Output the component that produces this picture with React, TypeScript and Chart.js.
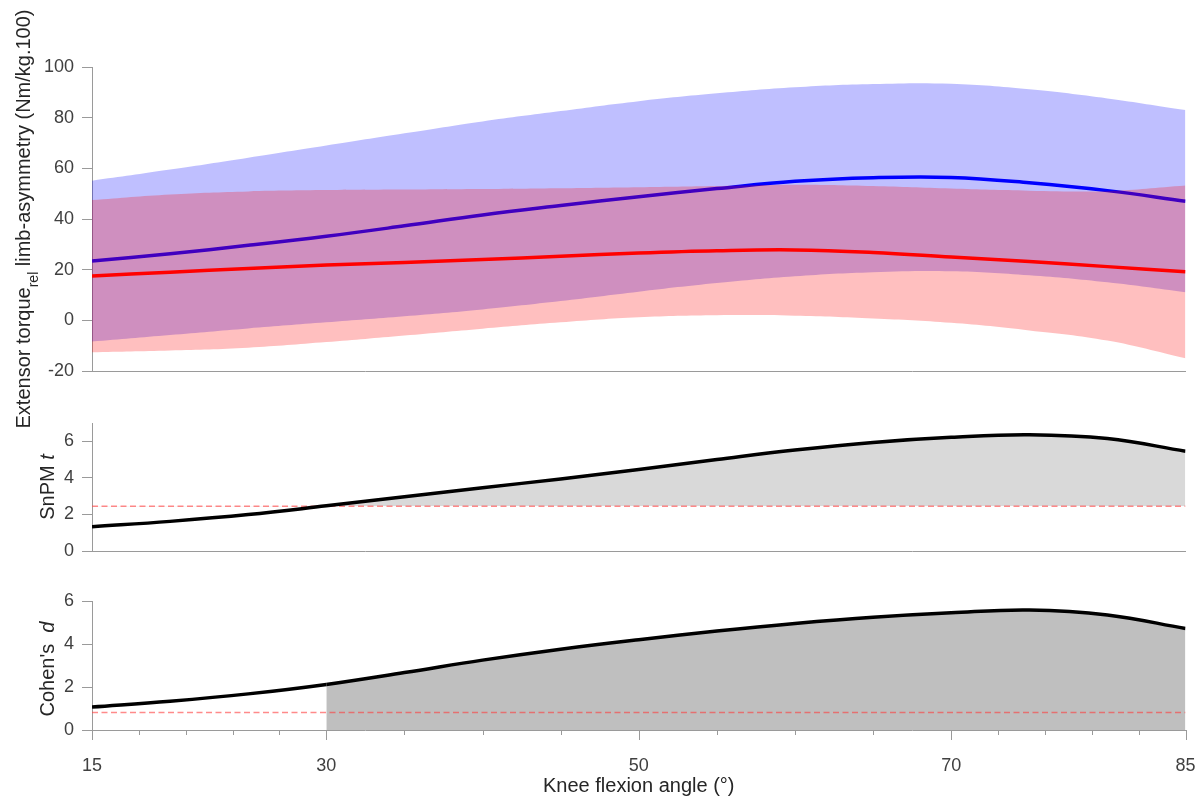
import React, { useEffect, useRef } from 'react';
import { Chart, registerables } from 'chart.js';

Chart.register(...registerables);

// ---------------- data ----------------
const ANGLES = [15, 20, 25, 30, 35, 40, 45, 50, 55, 60, 65, 70, 75, 80, 85];

const BLUE_MEAN = [23.4, 26.3, 29.6, 33.2, 37.3, 41.6, 45.3, 48.8, 52.0, 54.9, 56.3, 56.4, 54.3, 51.2, 47.0];
const BLUE_UPPER = [55.1, 59.5, 64.2, 69.0, 73.8, 78.5, 82.6, 86.5, 89.6, 92.0, 93.3, 93.4, 91.2, 87.6, 83.0];
const BLUE_LOWER = [-8.4, -5.8, -3.2, -0.8, 1.6, 4.3, 7.6, 11.3, 14.7, 17.4, 19.0, 19.4, 17.8, 15.0, 11.1];

const RED_MEAN = [17.5, 19.0, 20.5, 21.8, 22.8, 24.0, 25.3, 26.6, 27.5, 27.8, 26.8, 25.0, 23.2, 21.2, 19.2];
const RED_UPPER = [47.5, 49.7, 50.9, 51.4, 51.6, 51.8, 52.1, 52.5, 53.0, 53.5, 53.0, 52.0, 51.2, 51.0, 53.2];
const RED_LOWER = [-12.6, -11.9, -10.8, -8.6, -6.0, -3.3, -0.8, 1.2, 2.0, 1.8, 0.7, -1.0, -4.0, -8.0, -15.0];

const SNPM_T = [1.33, 1.62, 1.99, 2.47, 2.97, 3.46, 3.94, 4.46, 5.00, 5.52, 5.94, 6.22, 6.36, 6.15, 5.46];
const SNPM_THRESHOLD = 2.45;

const COHEN_D = [1.07, 1.34, 1.68, 2.12, 2.67, 3.25, 3.76, 4.20, 4.60, 4.95, 5.24, 5.45, 5.58, 5.35, 4.72];
const COHEN_THRESHOLD = 0.81;
const COHEN_SHADE_START = 30;

const X_TICKS = [15, 18, 21, 24, 27, 30, 35, 40, 45, 50, 55, 60, 65, 70, 73, 76, 79, 82, 85];
const X_MAJOR = [15, 30, 50, 70, 85];
const TOP_Y_TICKS = [-20, 0, 20, 40, 60, 80, 100];
const MID_Y_TICKS = [0, 2, 4, 6];
const BOT_Y_TICKS = [0, 2, 4, 6];

// ---------------- style ----------------
const FONT = '"Liberation Sans", Arial, Helvetica, sans-serif';
const AXIS_COLOR = '#9a9a9a';
const TEXT_COLOR = '#404040';
const TITLE_COLOR = '#262626';
const BLUE_BAND = 'rgba(0,0,255,0.25)';
const RED_BAND = 'rgba(255,0,0,0.25)';
const SHADE_T = '#d9d9d9';
const SHADE_D = '#bfbfbf';
const THRESH_COLOR = 'rgba(255,60,60,0.6)';
const NONE = 'rgba(0,0,0,0)';

const W = 1199;
const LEFT = 92;
const RIGHT_PAD = 13.5;

Chart.defaults.font.family = FONT;

const xy = (vals: number[]) => vals.map((y, i) => ({ x: ANGLES[i], y }));
const flat = (v: number) => [{ x: ANGLES[0], y: v }, { x: ANGLES[ANGLES.length - 1], y: v }];

type Part = { text: string; italic?: boolean; sub?: boolean };

const richTitle = {
  id: 'richTitle',
  afterDraw(chart: any, _args: any, opts: any) {
    if (!opts || !opts.parts) return;
    const { ctx, chartArea } = chart;
    const cy = opts.cy !== undefined ? opts.cy : (chartArea.top + chartArea.bottom) / 2;
    const size = 20;
    const subSize = 14;
    const fontFor = (p: Part) => `${p.italic ? 'italic ' : ''}${p.sub ? subSize : size}px ${FONT}`;
    ctx.save();
    ctx.translate(opts.baseline, cy);
    ctx.rotate(-Math.PI / 2);
    let total = 0;
    for (const p of opts.parts as Part[]) {
      ctx.font = fontFor(p);
      total += ctx.measureText(p.text).width;
    }
    let x = -total / 2;
    ctx.fillStyle = TITLE_COLOR;
    ctx.textBaseline = 'alphabetic';
    ctx.textAlign = 'left';
    for (const p of opts.parts as Part[]) {
      ctx.font = fontFor(p);
      ctx.fillText(p.text, x, p.sub ? 8 : 0);
      x += ctx.measureText(p.text).width;
    }
    ctx.restore();
  },
};

const xTickMarks = {
  id: 'xTickMarks',
  afterDraw(chart: any, _args: any, opts: any) {
    if (!opts || !opts.on) return;
    const s = chart.scales.x;
    const ctx = chart.ctx;
    ctx.save();
    ctx.strokeStyle = AXIS_COLOR;
    ctx.lineWidth = 1;
    for (const v of X_TICKS) {
      const px = Math.round(s.getPixelForValue(v)) + 0.5;
      const len = X_MAJOR.includes(v) ? 10 : 5;
      ctx.beginPath();
      ctx.moveTo(px, s.top);
      ctx.lineTo(px, s.top + len);
      ctx.stroke();
    }
    ctx.restore();
  },
};

function yScale(min: number, max: number, ticks: number[]) {
  return {
    type: 'linear',
    min,
    max,
    afterBuildTicks: (s: any) => {
      s.ticks = ticks.map((v) => ({ value: v }));
    },
    afterFit: (s: any) => {
      s.width = LEFT;
    },
    ticks: { padding: 8, color: TEXT_COLOR, font: { size: 18 } },
    grid: { drawOnChartArea: false, drawTicks: true, tickLength: 10, tickColor: AXIS_COLOR, color: AXIS_COLOR },
    border: { display: true, color: AXIS_COLOR, width: 1 },
  };
}

function plainX(height: number) {
  return {
    type: 'linear',
    min: 15,
    max: 85,
    ticks: { display: false },
    grid: { display: false },
    border: { display: true, color: AXIS_COLOR, width: 1 },
    afterFit: (s: any) => {
      s.height = height;
      s.paddingLeft = 0;
      s.paddingRight = 0;
    },
  };
}

const lineBase = { pointRadius: 0, pointHoverRadius: 0, tension: 0.4 };

export default function App() {
  const topRef = useRef<HTMLCanvasElement>(null);
  const midRef = useRef<HTMLCanvasElement>(null);
  const botRef = useRef<HTMLCanvasElement>(null);

  useEffect(() => {
    const charts: Chart[] = [];

    // ---------- top panel ----------
    charts.push(
      new Chart(topRef.current as HTMLCanvasElement, {
        type: 'line',
        data: {
          datasets: [
            { ...lineBase, label: 'blue upper', data: xy(BLUE_UPPER), borderColor: NONE, borderWidth: 0, backgroundColor: BLUE_BAND, fill: '+1', order: 60 },
            { ...lineBase, label: 'blue lower', data: xy(BLUE_LOWER), borderColor: NONE, borderWidth: 0, fill: false, order: 59 },
            { ...lineBase, label: 'blue mean', data: xy(BLUE_MEAN), borderColor: '#0000ff', borderWidth: 3.5, fill: false, order: 50 },
            { ...lineBase, label: 'red upper', data: xy(RED_UPPER), borderColor: NONE, borderWidth: 0, backgroundColor: RED_BAND, fill: '+1', order: 40 },
            { ...lineBase, label: 'red lower', data: xy(RED_LOWER), borderColor: NONE, borderWidth: 0, fill: false, order: 39 },
            { ...lineBase, label: 'red mean', data: xy(RED_MEAN), borderColor: '#ff0000', borderWidth: 3.5, fill: false, order: 30 },
          ],
        },
        options: {
          responsive: false,
          animation: false,
          events: [],
          layout: { padding: { left: 0, right: RIGHT_PAD, top: 67, bottom: 0 } },
          scales: {
            x: plainX(440 - 371),
            y: yScale(-20, 100, TOP_Y_TICKS),
          } as any,
          plugins: {
            legend: { display: false },
            tooltip: { enabled: false },
            richTitle: {
              baseline: 30,
              parts: [
                { text: 'Extensor torque' },
                { text: 'rel', sub: true },
                { text: ' limb-asymmetry (Nm/kg.100)' },
              ],
            },
          } as any,
        },
        plugins: [richTitle],
      })
    );

    // ---------- middle panel ----------
    charts.push(
      new Chart(midRef.current as HTMLCanvasElement, {
        type: 'line',
        data: {
          datasets: [
            {
              ...lineBase,
              label: 'SnPM t',
              data: xy(SNPM_T),
              borderColor: '#000000',
              borderWidth: 3.5,
              fill: { target: { value: SNPM_THRESHOLD }, above: SHADE_T, below: NONE },
              order: 0,
            },
            {
              label: 'threshold',
              data: flat(SNPM_THRESHOLD),
              pointRadius: 0,
              borderColor: THRESH_COLOR,
              borderWidth: 1.5,
              borderDash: [6, 3.5],
              fill: false,
              order: 1,
            },
          ] as any,
        },
        options: {
          responsive: false,
          animation: false,
          events: [],
          layout: { padding: { left: 0, right: RIGHT_PAD, top: 23, bottom: 0 } },
          scales: {
            x: plainX(170 - 151),
            y: yScale(0, 7, MID_Y_TICKS),
          } as any,
          plugins: {
            legend: { display: false },
            tooltip: { enabled: false },
            filler: { drawTime: 'beforeDatasetsDraw' },
            richTitle: {
              baseline: 54,
              parts: [{ text: 'SnPM ' }, { text: 't', italic: true }],
            },
          } as any,
        },
        plugins: [richTitle],
      })
    );

    // ---------- bottom panel ----------
    charts.push(
      new Chart(botRef.current as HTMLCanvasElement, {
        type: 'line',
        data: {
          datasets: [
            {
              ...lineBase,
              label: "Cohen's d",
              data: xy(COHEN_D),
              borderColor: '#000000',
              borderWidth: 3.5,
              backgroundColor: SHADE_D,
              fill: 'origin',
              segment: {
                backgroundColor: (c: any) => (c.p0.parsed.x >= COHEN_SHADE_START ? SHADE_D : NONE),
              },
              order: 0,
            },
            {
              label: 'threshold',
              data: flat(COHEN_THRESHOLD),
              pointRadius: 0,
              borderColor: THRESH_COLOR,
              borderWidth: 1.5,
              borderDash: [6, 3.5],
              fill: false,
              order: 1,
            },
          ] as any,
        },
        options: {
          responsive: false,
          animation: false,
          events: [],
          layout: { padding: { left: 0, right: RIGHT_PAD, top: 31, bottom: 0 } },
          scales: {
            x: {
              type: 'linear',
              min: 15,
              max: 85,
              afterBuildTicks: (s: any) => {
                s.ticks = X_TICKS.map((v) => ({ value: v }));
              },
              afterFit: (s: any) => {
                s.height = 70;
                s.paddingLeft = 0;
                s.paddingRight = 0;
              },
              ticks: {
                autoSkip: false,
                maxRotation: 0,
                minRotation: 0,
                padding: 17,
                color: TEXT_COLOR,
                font: { size: 18 },
                callback: (v: any) => (X_MAJOR.includes(Number(v)) ? String(v) : ''),
              },
              grid: { display: false },
              border: { display: true, color: AXIS_COLOR, width: 1 },
              title: {
                display: true,
                text: 'Knee flexion angle (°)',
                color: TITLE_COLOR,
                font: { size: 20 },
                padding: { top: 0, bottom: 2 },
              },
            },
            y: yScale(0, 6, BOT_Y_TICKS),
          } as any,
          plugins: {
            legend: { display: false },
            tooltip: { enabled: false },
            filler: { drawTime: 'beforeDatasetsDraw' },
            xTickMarks: { on: true },
            richTitle: {
              baseline: 54,
              cy: 99,
              parts: [{ text: "Cohen's  " }, { text: 'd', italic: true }],
            },
          } as any,
        },
        plugins: [richTitle, xTickMarks],
      })
    );

    return () => {
      charts.forEach((c) => c.destroy());
    };
  }, []);

  const cv = (top: number, height: number): React.CSSProperties => ({
    position: 'absolute',
    left: 0,
    top,
    width: W,
    height,
    display: 'block',
  });

  return (
    <div style={{ position: 'absolute', left: 0, top: 0, width: W, height: 800, background: '#ffffff' }}>
      <canvas ref={topRef} width={W} height={440} style={cv(0, 440)} />
      <canvas ref={midRef} width={W} height={170} style={cv(400, 170)} />
      <canvas ref={botRef} width={W} height={230} style={cv(570, 230)} />
    </div>
  );
}
